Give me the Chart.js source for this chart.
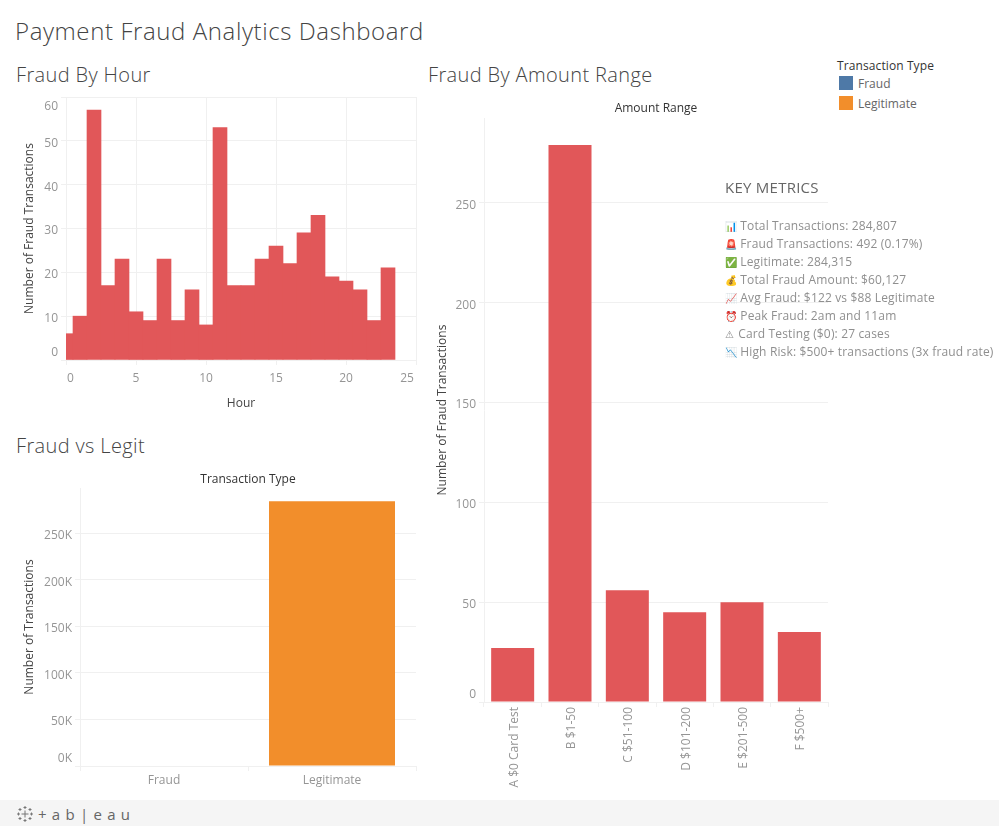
<!DOCTYPE html>
<html><head><meta charset="utf-8">
<script src="https://cdn.jsdelivr.net/npm/chart.js@4"></script>
<style>
html,body{margin:0;padding:0;background:#fff;width:999px;height:826px;overflow:hidden;font-family:"Open Sans",sans-serif}
.abs{position:absolute;white-space:nowrap}
.h1{font-weight:300;color:#444;font-size:24px;line-height:30px;letter-spacing:.6px}
.h2{font-weight:300;color:#444;font-size:20px;line-height:26px;letter-spacing:.37px}
canvas{position:absolute}
.sw{position:absolute;width:14px;height:14px}
.lg{font-size:12px;color:#666;line-height:16px}
.km{font-size:12px;color:#8f8f8f;line-height:18px;left:725px;letter-spacing:.15px}
.em{display:inline-block;font-size:10px;width:12px;letter-spacing:0}
#footer{position:absolute;left:0;top:800px;width:999px;height:26px;background:#f5f5f5}
</style></head><body>
<div class="abs h1" style="left:15px;top:16px">Payment Fraud Analytics Dashboard</div>
<div class="abs h2" style="left:16px;top:62px">Fraud By Hour</div>
<div class="abs h2" style="left:428px;top:62px">Fraud By Amount Range</div>
<div class="abs h2" style="left:16px;top:433px">Fraud vs Legit</div>
<canvas id="hourChart" width="420" height="330" style="left:0;top:90px"></canvas>
<canvas id="typeChart" width="420" height="340" style="left:0;top:460px"></canvas>
<canvas id="amountChart" width="410" height="710" style="left:420px;top:90px"></canvas>
<div class="abs lg" style="left:837px;top:58px;color:#333;font-weight:500;letter-spacing:.1px">Transaction Type</div>
<div class="sw" style="left:839px;top:76px;background:#4e79a7"></div><div class="abs lg" style="left:858px;top:76px">Fraud</div>
<div class="sw" style="left:839px;top:96px;background:#f28e2b"></div><div class="abs lg" style="left:858px;top:96px">Legitimate</div>
<div class="abs" style="left:725px;top:177px;font-size:15px;letter-spacing:.25px;line-height:20px;color:#666">KEY METRICS</div>
<div id="metrics"></div>
<div id="footer">
<svg class="abs" style="left:17px;top:6px" width="16" height="16" viewBox="0 0 16 16" stroke="#777" stroke-width="1" fill="none"><path d="M8 4.5v7M4.5 8h7M8 0v3M6.5 1.500h3M8 13v3M6.500 14.500h3M0 8h3M1.500 6.500v3M13 8h3M14.500 6.500v3M3 2v3M1.500 3.500h3M13 2v3M11.500 3.500h3M3 11v3M1.500 12.500h3M13 11v3M11.500 12.500h3"/></svg>
<div class="abs" style="left:38px;top:3px;font-size:15px;color:#666;letter-spacing:.7px;line-height:22px">+ a b | e a u</div></div>
<script>
const hours=[0,1,2,3,4,5,6,7,8,9,10,11,12,13,14,15,16,17,18,19,20,21,22,23];
const fraudByHour=[6,10,57,17,23,11,9,23,9,16,8,53,17,17,23,26,22,29,33,19,18,16,9,21];
const transactionTypes=['Fraud','Legitimate'];
const transactionCounts=[492,284315];
const transactionTicks=[0,50000,100000,150000,200000,250000];
const amountRanges=['A $0 Card Test','B $1-50','C $51-100','D $101-200','E $201-500','F $500+'];
const fraudByAmount=[27,279,56,45,50,35];
const metricLines=['📊 Total Transactions: 284,807','🚨 Fraud Transactions: 492 (0.17%)','✅ Legitimate: 284,315','💰 Total Fraud Amount: $60,127','📈 Avg Fraud: $122 vs $88 Legitimate','⏰ Peak Fraud: 2am and 11am','⚠ Card Testing ($0): 27 cases','📉 High Risk: $500+ transactions (3x fraud rate)'];

metricLines.forEach((t,i)=>{
  const d=document.createElement('div');d.className='abs km';d.style.top=(217+18*i)+'px';
  const cut=t.indexOf(' ');
  const e=document.createElement('span');e.className='em';e.textContent=t.slice(0,cut);
  if(t[0]==='⚠')e.style.width='10px';
  d.appendChild(e);d.appendChild(document.createTextNode(t.slice(cut)));
  document.getElementById('metrics').appendChild(d);
});

const FONT='"Open Sans",sans-serif',GRID='#f0f0f0',TICK='#959595',AXIS='#444',RED='#e15759';
Chart.defaults.font.family=FONT;Chart.defaults.font.size=12;
// Keep end labels inside the plot, as the original dashboard does
const clampLabels={id:'clampLabels',beforeDraw(chart){
  const a=chart.chartArea;
  for(const id of ['x','y']){const s=chart.scales[id];
    if(s.labelRotation)continue;
    for(const it of s.getLabelItems()){
      if(it._done)continue;it._done=true;const t=it.options.translation;
      if(id==='y'){t[1]=Math.min(a.bottom-7,Math.max(a.top+10,t[1]+2.5));}
      else{const h=String(it.label).length*4.5;t[0]=Math.min(a.right-h,Math.max(a.left+h,t[0]));}
    }}
}};
const fit=(prop,val)=>s=>{s[prop]=val;s.paddingLeft=s.paddingRight=s.paddingTop=s.paddingBottom=0;};
const ticks=o=>Object.assign({color:TICK,font:{size:12},padding:3},o);
const grid=o=>Object.assign({color:GRID,tickColor:GRID,tickLength:5},o);
const border={color:GRID};
const yTitle=(text,off)=>({display:true,text,color:AXIS,font:{size:12},padding:{top:off,bottom:0}});
const topAxis=(text,h,off)=>({axis:'x',type:'category',position:'top',labels:[],grid:{display:false},border:{display:false},ticks:{display:false},
  title:{display:true,text,color:'#333',font:{size:12,weight:'500'},padding:{top:off,bottom:0}},afterFit:fit('height',h)});
const base={responsive:false,animation:false,events:[],plugins:{legend:{display:false},tooltip:{enabled:false}}};

new Chart(document.getElementById('hourChart'),{type:'bar',plugins:[clampLabels],
  data:{datasets:[{data:hours.map((h,i)=>({x:h,y:fraudByHour[i]})),backgroundColor:RED,barPercentage:1,categoryPercentage:1}]},
  options:{...base,layout:{padding:{top:7,right:4}},scales:{
    x:{type:'linear',offset:false,min:0,max:25,grid:grid({offset:false}),border,ticks:ticks({stepSize:5,maxRotation:0,padding:6}),
       title:{display:true,text:'Hour',color:AXIS,font:{size:12},padding:{top:0,bottom:9}},afterFit:fit('height',60)},
    y:{min:0,max:60,grid:grid(),border,ticks:ticks({stepSize:10,includeBounds:false}),title:yTitle('Number of Fraud Transactions',22),afterFit:fit('width',66)}
  }}});

new Chart(document.getElementById('typeChart'),{type:'bar',plugins:[clampLabels],
  data:{labels:transactionTypes,datasets:[{data:transactionCounts,xAxisID:'x',yAxisID:'y',backgroundColor:['#4e79a7','#f28e2b'],barPercentage:.75,categoryPercentage:1}]},
  options:{...base,layout:{padding:{right:4}},scales:{
    xTop:topAxis('Transaction Type',28,12),
    x:{grid:grid({drawOnChartArea:false}),border,ticks:ticks({maxRotation:0,padding:2}),afterFit:fit('height',34)},
    y:{min:0,max:298600,grid:grid(),border,afterBuildTicks:s=>{s.ticks=transactionTicks.map(value=>({value}));},
       ticks:ticks({callback:v=>(v/1000)+'K'}),title:yTitle('Number of Transactions',22),afterFit:fit('width',80)}
  }}});

new Chart(document.getElementById('amountChart'),{type:'bar',plugins:[clampLabels],
  data:{labels:amountRanges,datasets:[{data:fraudByAmount,xAxisID:'x',yAxisID:'y',backgroundColor:RED,barPercentage:.75,categoryPercentage:1}]},
  options:{...base,layout:{padding:{right:2}},scales:{
    xTop:topAxis('Amount Range',28,11),
    x:{grid:grid({drawOnChartArea:false}),border,ticks:ticks({minRotation:90,maxRotation:90,autoSkip:false,padding:0,labelOffset:1.5}),afterFit:fit('height',98)},
    y:{min:0,max:292.5,grid:grid(),border,ticks:ticks({stepSize:50,includeBounds:false}),title:yTitle('Number of Fraud Transactions',15),afterFit:fit('width',64)}
  }}});
</script></body></html>
